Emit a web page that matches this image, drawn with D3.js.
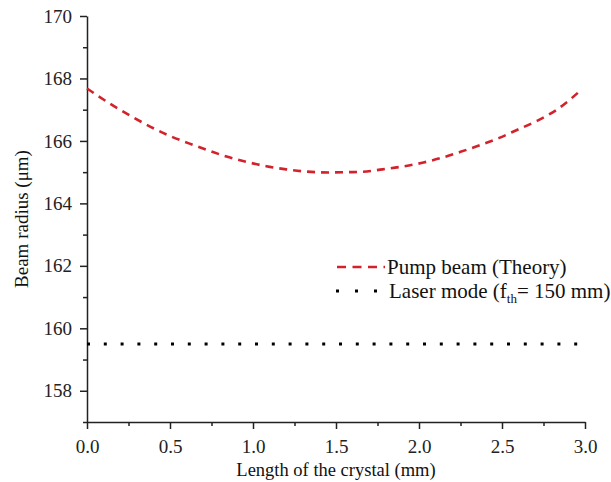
<!DOCTYPE html>
<html>
<head>
<meta charset="utf-8">
<script src="https://cdn.jsdelivr.net/npm/d3@7/dist/d3.min.js"></script>
<style>
  html, body { margin: 0; padding: 0; background: #fff; }
  svg { display: block; }
  svg text { font-family: "Liberation Serif", "DejaVu Serif", serif; }
</style>
</head>
<body>
<div id="chart"></div>
<script>
// Pump beam (theory)
const pumpX = [0.00, 0.16, 0.27, 0.38, 0.49, 0.61, 0.73, 0.84, 0.96, 1.08, 1.20, 1.32, 1.46, 1.57, 1.66, 1.78, 1.90, 2.02, 2.13, 2.25, 2.37, 2.48, 2.59, 2.71, 2.83, 2.97];
const pumpY = [167.68, 167.12, 166.78, 166.46, 166.18, 165.93, 165.70, 165.50, 165.33, 165.19, 165.09, 165.02, 164.99, 165.00, 165.01, 165.09, 165.18, 165.30, 165.45, 165.65, 165.87, 166.09, 166.35, 166.64, 167.00, 167.60];

// Laser mode (f_th = 150 mm)
const laserX = [0.0, 2.96];
const laserY = [159.5, 159.5];

const xMajor = [0.0, 0.5, 1.0, 1.5, 2.0, 2.5, 3.0];
const xMinor = [0.25, 0.75, 1.25, 1.75, 2.25, 2.75];
const yMajor = [158, 160, 162, 164, 166, 168, 170];
const yMinor = [157, 159, 161, 163, 165, 167, 169];

const W = 611, H = 482;
const margin = { top: 16, right: 26, bottom: 60, left: 87 };
const width  = W - margin.left - margin.right;
const height = H - margin.top - margin.bottom;

const RED = "#d2232c";
const AXIS = "#222";

const svg = d3.select("#chart").append("svg")
  .attr("width", W).attr("height", H);

const g = svg.append("g")
  .attr("transform", `translate(${margin.left},${margin.top})`);

const x = d3.scaleLinear().domain([0, 3]).range([0, width]);
const y = d3.scaleLinear().domain([157, 170]).range([height, 0]);

// minor ticks
g.append("g")
  .attr("transform", `translate(0,${height})`)
  .call(d3.axisBottom(x).tickValues(xMinor).tickSize(4).tickFormat(""))
  .call(a => a.select(".domain").remove());
g.append("g")
  .call(d3.axisLeft(y).tickValues(yMinor).tickSize(4).tickFormat(""))
  .call(a => a.select(".domain").remove());

// major axes
const xAxis = g.append("g")
  .attr("transform", `translate(0,${height})`)
  .call(d3.axisBottom(x).tickValues(xMajor).tickSize(7).tickSizeOuter(0).tickPadding(11).tickFormat(d3.format(".1f")));
const yAxis = g.append("g")
  .call(d3.axisLeft(y).tickValues(yMajor).tickSize(7).tickSizeOuter(0).tickPadding(8).tickFormat(d3.format("d")));

[xAxis, yAxis].forEach(a => {
  a.attr("font-family", null);
  a.selectAll("text").attr("font-size", 19).attr("fill", "#222");
});
g.selectAll(".domain").attr("stroke", AXIS).attr("stroke-width", 1.5);
g.selectAll(".tick line").attr("stroke", AXIS).attr("stroke-width", 1.5);

// pump beam
const pump = pumpX.map((d, i) => ({ x: d, y: pumpY[i] }));
g.append("path")
  .datum(pump)
  .attr("fill", "none")
  .attr("stroke", RED)
  .attr("stroke-width", 2.6)
  .attr("stroke-dasharray", "8 6")
  .attr("d", d3.line().curve(d3.curveMonotoneX).x(d => x(d.x)).y(d => y(d.y)));

// laser mode
const laser = laserX.map((d, i) => ({ x: d, y: laserY[i] }));
g.append("path")
  .datum(laser)
  .attr("fill", "none")
  .attr("stroke", "#000")
  .attr("stroke-width", 3)
  .attr("stroke-dasharray", "3 13.8")
  .attr("d", d3.line().x(d => x(d.x)).y(d => y(d.y)));

// legend
const leg = svg.append("g").attr("font-size", 21).attr("fill", "#111");
leg.append("line")
  .attr("x1", 337).attr("x2", 385).attr("y1", 267).attr("y2", 267)
  .attr("stroke", RED).attr("stroke-width", 2.6).attr("stroke-dasharray", "9 6.5");
leg.append("text").attr("x", 387).attr("y", 274).text("Pump beam (Theory)");

leg.append("line")
  .attr("x1", 336).attr("x2", 385).attr("y1", 291).attr("y2", 291)
  .attr("stroke", "#000").attr("stroke-width", 3).attr("stroke-dasharray", "3 16");
const t2 = leg.append("text").attr("x", 389).attr("y", 298);
t2.append("tspan").text("Laser mode (f");
t2.append("tspan").attr("font-size", 13).attr("dy", 5).text("th");
t2.append("tspan").attr("dy", -5).text("= 150 mm)");

// axis titles
svg.append("text")
  .attr("x", margin.left + width / 2).attr("y", 476)
  .attr("text-anchor", "middle").attr("font-size", 18.5).attr("fill", "#111")
  .text("Length of the crystal (mm)");

svg.append("text")
  .attr("transform", `translate(28,${margin.top + height / 2}) rotate(-90)`)
  .attr("text-anchor", "middle").attr("font-size", 19).attr("fill", "#111")
  .text("Beam radius (μm)");
</script>
</body>
</html>
